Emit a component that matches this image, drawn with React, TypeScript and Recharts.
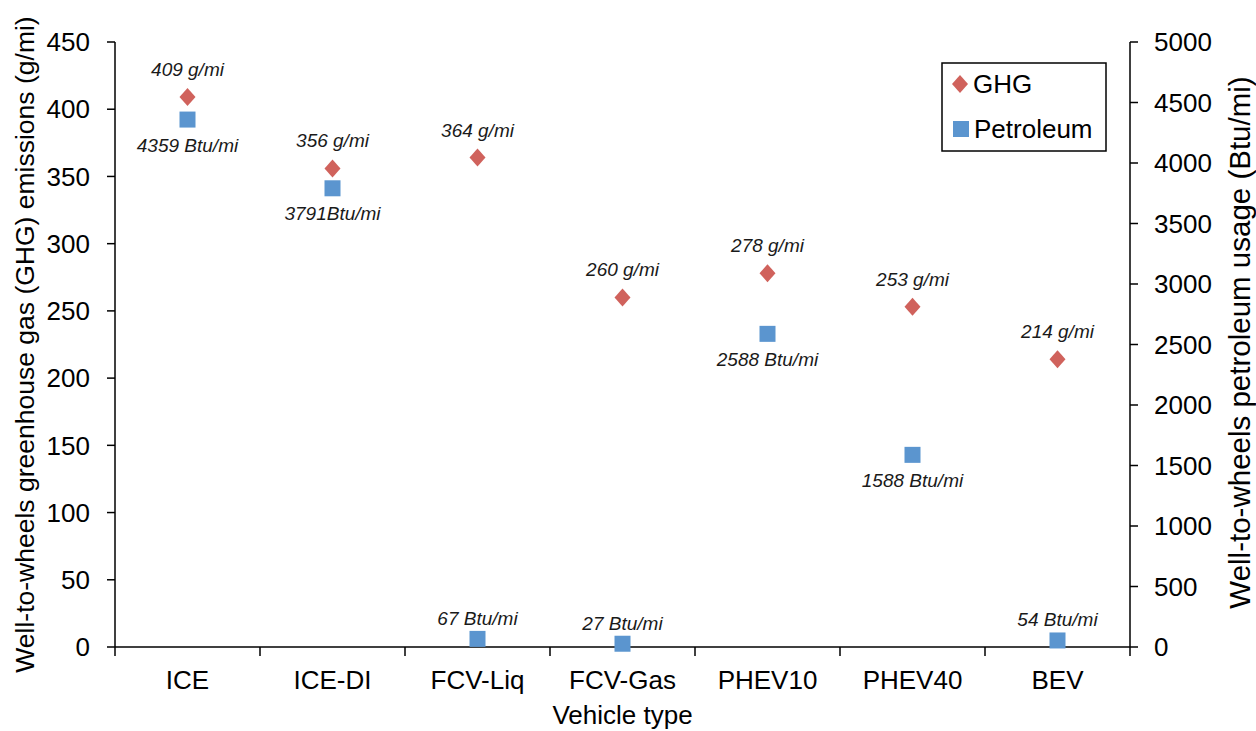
import React from 'react';
import { ComposedChart, Scatter, XAxis, YAxis, LabelList, Legend } from 'recharts';

// Well-to-wheels results per vehicle type
const vehicleTypes = ['ICE', 'ICE-DI', 'FCV-Liq', 'FCV-Gas', 'PHEV10', 'PHEV40', 'BEV'];
const ghgValues = [409, 356, 364, 260, 278, 253, 214];
const petroleumValues = [4359, 3791, 67, 27, 2588, 1588, 54];

const ghgTicks = [0, 50, 100, 150, 200, 250, 300, 350, 400, 450];
const petroleumTicks = [0, 500, 1000, 1500, 2000, 2500, 3000, 3500, 4000, 4500, 5000];

// petroleum labels that sit under their marker (the rest go above)
const petroleumLabelBelow = ['ICE', 'ICE-DI', 'PHEV10', 'PHEV40'];
// one label was typeset without a space before the unit
const tightUnitLabels = ['ICE-DI'];

const data = vehicleTypes.map((name, i) => ({
    name,
    ghg: ghgValues[i],
    petroleum: petroleumValues[i],
}));

const GHG_COLOR = '#D0625C';
const PET_COLOR = '#5B95CF';
const FONT = '"Liberation Sans", Arial, sans-serif';

const PLOT_WIDTH = 1256 - 115 - 126;

const Diamond = (props: any) => {
    const { cx, cy } = props;
    return <polygon points={`${cx},${cy - 9} ${cx + 8},${cy} ${cx},${cy + 9} ${cx - 8},${cy}`} fill={GHG_COLOR} />;
};

const Square = (props: any) => {
    const { cx, cy } = props;
    return <rect x={cx - 8} y={cy - 8} width={16} height={16} fill={PET_COLOR} />;
};

const centerOf = (props: any) => {
    const vb = props.viewBox ?? props;
    return { cx: vb.x + vb.width / 2, cy: vb.y + vb.height / 2 };
};

const GhgLabel = (props: any) => {
    const { cx, cy } = centerOf(props);
    const value = props.value ?? ghgValues[props.index];
    return (
        <text x={cx} y={cy - 21} textAnchor="middle" fontSize={19} fontStyle="italic" fill="#1a1a1a" fontFamily={FONT}>
            {`${value} g/mi`}
        </text>
    );
};

const PetroleumLabel = (props: any) => {
    const { cx, cy } = centerOf(props);
    const name = vehicleTypes[props.index];
    const value = props.value ?? petroleumValues[props.index];
    const below = petroleumLabelBelow.includes(name);
    const sep = tightUnitLabels.includes(name) ? '' : ' ';
    return (
        <text x={cx} y={below ? cy + 32 : cy - 14} textAnchor="middle" fontSize={19} fontStyle="italic" fill="#1a1a1a" fontFamily={FONT}>
            {`${value}${sep}Btu/mi`}
        </text>
    );
};

// category label centred in its band, tick marks on the band edges
const CategoryTick = (props: any) => {
    const { x, y, payload, index, visibleTicksCount } = props;
    const half = payload.offset || PLOT_WIDTH / vehicleTypes.length / 2;
    return (
        <g>
            <line x1={x - half} x2={x - half} y1={y} y2={y + 9} stroke="#000" strokeWidth={1.5} />
            {index === visibleTicksCount - 1 && (
                <line x1={x + half} x2={x + half} y1={y} y2={y + 9} stroke="#000" strokeWidth={1.5} />
            )}
            <text x={x} y={y + 42} textAnchor="middle" fontSize={26} fill="#000" fontFamily={FONT}>
                {payload.value}
            </text>
        </g>
    );
};

const LeftTitle = (props: any) => {
    const { viewBox } = props;
    const x = viewBox.x + 25;
    const y = viewBox.y + viewBox.height / 2;
    return (
        <text x={x} y={y} transform={`rotate(-90 ${x} ${y})`} textAnchor="middle" dominantBaseline="central" fontSize={26.5} fill="#000" fontFamily={FONT}>
            Well-to-wheels greenhouse gas (GHG) emissions (g/mi)
        </text>
    );
};

const RightTitle = (props: any) => {
    const { viewBox } = props;
    const x = viewBox.x + 109;
    const y = viewBox.y + viewBox.height / 2 - 2;
    return (
        <text x={x} y={y} transform={`rotate(-90 ${x} ${y})`} textAnchor="middle" dominantBaseline="central" fontSize={29.5} fill="#000" fontFamily={FONT}>
            Well-to-wheels petroleum usage (Btu/mi)
        </text>
    );
};

const BottomTitle = (props: any) => {
    const { viewBox } = props;
    return (
        <text x={viewBox.x + viewBox.width / 2} y={viewBox.y + 77} textAnchor="middle" fontSize={26} fill="#000" fontFamily={FONT}>
            Vehicle type
        </text>
    );
};

const LegendBox = () => (
    <svg width={166} height={90} style={{ display: 'block' }}>
        <rect x={1} y={1} width={164} height={88} fill="#fff" stroke="#000" strokeWidth={1.5} />
        <Diamond cx={19} cy={22} />
        <text x={32} y={31} fontSize={26} fill="#000" fontFamily={FONT}>GHG</text>
        <Square cx={20} cy={67} />
        <text x={33} y={76} fontSize={26} fill="#000" fontFamily={FONT}>Petroleum</text>
    </svg>
);

const axisStroke = { stroke: '#000', strokeWidth: 1.5 };

export default function App() {
    return (
        <div style={{ position: 'absolute', left: 0, top: 0, fontFamily: FONT, background: '#fff' }}>
            <ComposedChart width={1256} height={731} data={data} margin={{ top: 42, right: 0, bottom: 0, left: 0 }}>
                <XAxis
                    dataKey="name"
                    type="category"
                    scale="band"
                    height={84}
                    interval={0}
                    axisLine={axisStroke}
                    tickLine={false}
                    tickSize={0}
                    tickMargin={0}
                    tick={<CategoryTick />}
                    label={BottomTitle}
                />
                <YAxis
                    yAxisId="left"
                    width={115}
                    domain={[0, 450]}
                    ticks={ghgTicks}
                    interval={0}
                    axisLine={axisStroke}
                    tickLine={axisStroke}
                    tickSize={8}
                    tickMargin={17}
                    tick={{ fill: '#000', fontSize: 26, fontFamily: FONT }}
                    label={LeftTitle}
                />
                <YAxis
                    yAxisId="right"
                    orientation="right"
                    width={126}
                    domain={[0, 5000]}
                    ticks={petroleumTicks}
                    interval={0}
                    axisLine={axisStroke}
                    tickLine={axisStroke}
                    tickSize={8}
                    tickMargin={16}
                    tick={{ fill: '#000', fontSize: 26, fontFamily: FONT }}
                    label={RightTitle}
                />
                <Legend
                    layout="horizontal"
                    verticalAlign="middle"
                    align="center"
                    content={LegendBox}
                    wrapperStyle={{ left: 941, top: 62, width: 166, height: 90 }}
                />
                <Scatter yAxisId="left" name="GHG" dataKey="ghg" fill={GHG_COLOR} shape={Diamond} isAnimationActive={false}>
                    <LabelList dataKey="ghg" content={GhgLabel} />
                </Scatter>
                <Scatter yAxisId="right" name="Petroleum" dataKey="petroleum" fill={PET_COLOR} shape={Square} isAnimationActive={false}>
                    <LabelList dataKey="petroleum" content={PetroleumLabel} />
                </Scatter>
            </ComposedChart>
        </div>
    );
}
